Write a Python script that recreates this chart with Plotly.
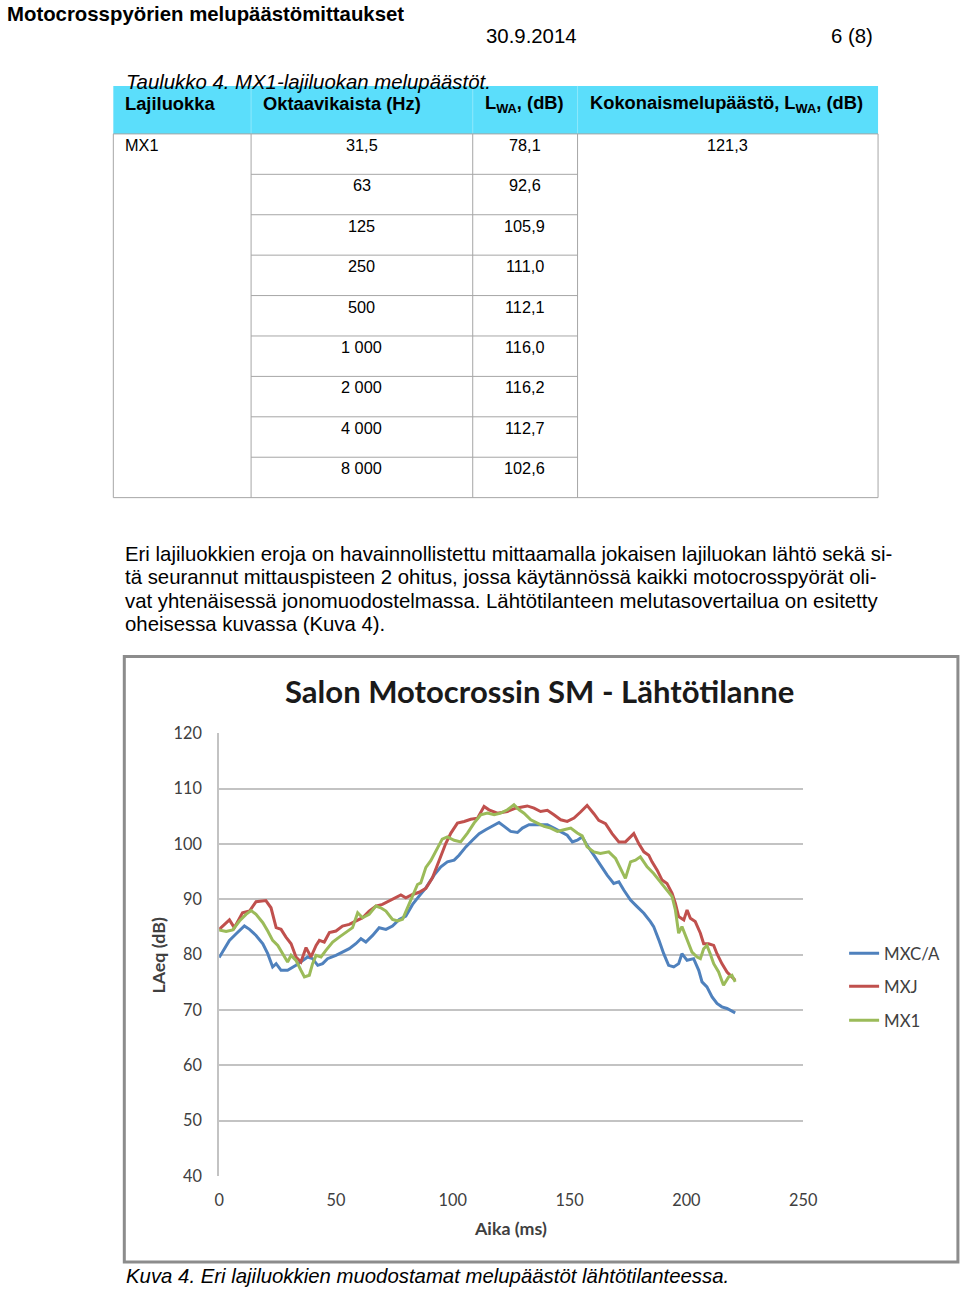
import plotly.graph_objects as go

# The photographed page shows the figure with a small offset and a ~0.98 scale,
# so page (reference) pixels are mapped back to figure pixels with that transform.
W, H = 968, 1289
OX, SX = 3.5, 0.982
OY, SY = 9.0, 0.986

# ---------------- data ----------------
doc_title = "Motocrosspyörien melupäästömittaukset"
doc_date = "30.9.2014"
doc_page = "6 (8)"
table_caption = "Taulukko 4. MX1-lajiluokan melupäästöt."
table_headers = ["Lajiluokka", "Oktaavikaista (Hz)", "L<sub>WA</sub>, (dB)",
                 "Kokonaismelupäästö, L<sub>WA</sub>, (dB)"]
table_class = "MX1"
octave_bands = ["31,5", "63", "125", "250", "500", "1 000", "2 000", "4 000", "8 000"]
lwa_values = ["78,1", "92,6", "105,9", "111,0", "112,1", "116,0", "116,2", "112,7", "102,6"]
total_lwa = "121,3"

paragraph_lines = [
    "Eri lajiluokkien eroja on havainnollistettu mittaamalla jokaisen lajiluokan lähtö sekä si-",
    "tä seurannut mittauspisteen 2 ohitus, jossa käytännössä kaikki motocrosspyörät oli-",
    "vat yhtenäisessä jonomuodostelmassa. Lähtötilanteen melutasovertailua on esitetty",
    "oheisessa kuvassa (Kuva 4).",
]
figure_caption = "Kuva 4. Eri lajiluokkien muodostamat melupäästöt lähtötilanteessa."

chart_title = "Salon Motocrossin SM - Lähtötilanne"
x_title = "Aika (ms)"
y_title = "LAeq (dB)"
x_ticks = [0, 50, 100, 150, 200, 250]
y_ticks = [40, 50, 60, 70, 80, 90, 100, 110, 120]

series_names = ["MXC/A", "MXJ", "MX1"]

t_mxca = [0, 4.4, 7.3, 10.8, 13, 15.8, 18.7, 20.8, 22.9, 24.4, 26.5, 29.3, 32.9, 35.8, 37.9,
          40, 42.2, 44.3, 46.4, 50, 52.8, 55.7, 58.5, 60.7, 62.8, 65.7, 68.5, 71.4, 74.2, 77.1,
          79.9, 82.8, 85.6, 88.5, 92, 94.9, 97.7, 100.6, 102.7, 105.6, 108.4, 111.3, 114.1, 117,
          119.8, 122, 124.8, 127.7, 129.8, 132.6, 136.2, 140.5, 143.3, 146.2, 149, 151.2, 153.3,
          155.4, 157.5, 160.4, 163.2, 166.1, 168.9, 171.1, 173.2, 176.1, 178.9, 181.8, 184.6,
          186, 188.2, 190.3, 192.4, 194.6, 196.7, 198.1, 200.3, 203.1, 205.3, 206.7, 208.8, 211,
          213.1, 215.2, 217.4, 219.5, 220.9]
v_mxca = [79.5, 82.6, 83.8, 85.2, 84.6, 83.5, 82.0, 80.2, 77.8, 78.4, 77.2, 77.2, 78.1, 79.0, 79.6,
          79.3, 78.1, 78.4, 79.3, 79.9, 80.5, 81.1, 82.0, 82.9, 82.3, 83.5, 84.9, 84.6, 85.2, 86.4,
          87.0, 89.1, 90.6, 92.1, 94.4, 95.9, 96.8, 97.1, 98.0, 99.5, 100.7, 101.9, 102.6, 103.2,
          103.9, 103.2, 102.3, 102.1, 102.9, 103.5, 103.5, 103.5, 102.9, 102.3, 101.6, 100.4, 100.7,
          101.3, 99.8, 98.0, 96.2, 94.4, 92.9, 93.2, 91.7, 89.9, 88.7, 87.5, 86.0,
          85.1, 82.7, 80.2, 78.1, 77.8, 78.4, 80.2, 79.0, 79.3, 77.2, 75.1, 74.2, 72.4,
          71.2, 70.6, 70.3, 69.9, 69.5]

t_mxj = [0, 4.4, 6.5, 10, 13, 15.8, 20, 22.2, 24.4, 26.5, 28.6, 30.8, 32.9, 35, 37.2, 39.3, 41.5,
         42.9, 45, 47.2, 50, 52.8, 55.7, 58.5, 61.4, 64.2, 67.1, 69.9, 72.8, 75.6, 77.8, 79.9, 82.8,
         85.6, 88.5, 91.3, 94.9, 97, 99.2, 102, 104.9, 107.7, 110.6, 113.4, 115.5, 119.1, 123.4,
         126.9, 131.9, 134.8, 137.6, 140.5, 143.3, 146.2, 149, 151.9, 154.7, 157.5, 160.4, 162.5,
         165.4, 168.2, 171.1, 173.9, 176.1, 177.5, 179.6, 181.8, 183.9, 185.3, 187.5, 189.6, 191.7,
         193.9, 195.3, 196.7, 198.9, 200.3, 201.7, 203.8, 206, 207.4, 209.5, 211.7, 213.1, 215.2,
         217.4, 219.5, 220.9]
v_mxj = [84.6, 86.3, 84.9, 87.6, 87.9, 89.6, 89.8, 88.5, 84.9, 84.6, 83.2, 82.0, 79.6, 78.7, 81.3,
         79.6, 81.7, 82.6, 82.3, 84.0, 84.3, 85.2, 85.5, 86.1, 86.7, 87.9, 88.8, 89.1, 89.7, 90.4,
         90.8, 90.3, 90.9, 91.3, 92.0, 93.9, 97.7, 100.1, 102.0, 103.8, 104.1, 104.5, 104.7, 106.8,
         106.2, 105.6, 105.9, 106.5, 106.9, 106.5, 105.9, 106.1, 105.3, 104.4, 104.1, 104.7, 105.8,
         107.0, 105.5, 104.3, 103.7, 101.9, 100.4, 100.4, 101.3, 101.9, 100.1, 98.6, 98.0, 96.8,
         95.3, 93.5, 92.9, 91.1, 89.3, 86.9, 86.3, 88.1, 86.6, 86.0, 83.9, 82.0, 82.0, 81.7, 80.2,
         78.4, 76.9, 76.0, 75.4]

t_mx1 = [0, 3, 5.8, 8.7, 11.5, 13.7, 15.8, 18.7, 20.8, 22.9, 25.1, 27.2, 29.3, 30.8, 32.9, 35,
         36.5, 38.6, 40, 41.5, 43.6, 45.7, 48.6, 51.4, 54.3, 57.1, 59.3, 61.4, 64.2, 67.1, 69.2,
         71.4, 74.2, 76.4, 78.5, 80.6, 82.8, 84.9, 86.3, 88.5, 90.6, 93.4, 95.5, 97.7, 100.6, 103.4,
         106.3, 109.1, 112, 114.8, 117.7, 120.5, 123.4, 126.2, 128.4, 130.5, 133.4, 136.2, 139.1,
         141.9, 144.8, 147.6, 150.5, 153.3, 155.4, 157.5, 160.4, 163.2, 166.8, 169.7, 171.8, 173.9,
         176.1, 178.2, 180.3, 183.2, 186, 188.9, 191.7, 193.9, 195.3, 196.7, 198.1, 200.3, 202.4,
         204.6, 206, 207.4, 208.8, 210.2, 211.7, 213.8, 215.9, 218.1, 219.5, 220.9]
v_mx1 = [84.5, 84.2, 84.5, 86.1, 87.3, 88.0, 87.3, 85.8, 84.3, 82.6, 81.7, 80.2, 78.7, 79.9, 79.0,
         77.2, 76.0, 76.3, 78.4, 79.9, 79.6, 80.8, 82.3, 83.2, 84.0, 84.9, 87.6, 86.7, 87.3, 88.8,
         88.5, 87.9, 86.4, 86.1, 86.4, 88.5, 90.9, 92.7, 93.0, 95.8, 97.0, 99.4, 100.9, 101.3, 100.7,
         100.4, 102.0, 103.8, 105.3, 105.6, 105.3, 105.6, 106.2, 107.1, 106.2, 105.6, 104.4, 103.8,
         103.2, 102.9, 102.3, 102.6, 102.9, 102.0, 101.5, 99.5, 98.6, 98.3, 98.6, 97.4, 95.6, 93.8,
         96.8, 97.1, 97.7, 95.9, 94.7, 93.2, 91.7, 90.5, 88.1, 83.9, 85.1, 82.7, 80.5, 79.6, 79.3,
         81.1, 81.7, 80.2, 78.4, 76.9, 74.5, 76.0, 76.3, 75.1]

series_t = [t_mxca, t_mxj, t_mx1]
series_v = [v_mxca, v_mxj, v_mx1]
series_colors = ["#4F81BD", "#C0504D", "#9BBB59"]

# ---------------- layout helpers (page pixel -> paper fraction) ----------------
def fx(x):
    return ((x - OX) / SX) / W


def fy(y):
    return 1 - ((y - OY) / SY) / H


K = 1 / SX  # font compensation for the photographed scale

DOC_FONT = "Liberation Sans, Arial, sans-serif"
CHART_FONT = "Lato, Open Sans, sans-serif"

annotations = []
shapes = []


def text(x, y, s, size, xanchor="left", color="#000000", family=DOC_FONT, bold=False,
         italic=False):
    if bold:
        s = "<b>" + s + "</b>"
    if italic:
        s = "<i>" + s + "</i>"
    annotations.append(dict(x=fx(x), y=fy(y), xref="paper", yref="paper", text=s,
                            showarrow=False, xanchor=xanchor, yanchor="middle",
                            font=dict(size=size * K, color=color, family=family)))


def rect(x0, y0, x1, y1, fill=None, line_color=None, width=1):
    shapes.append(dict(type="rect", xref="paper", yref="paper",
                       x0=fx(x0), x1=fx(x1), y0=fy(y1), y1=fy(y0),
                       fillcolor=fill if fill else "rgba(0,0,0,0)",
                       line=dict(color=line_color if line_color else "rgba(0,0,0,0)",
                                 width=width), layer="below"))


def line(x0, y0, x1, y1, color="#a6a6a6", width=1):
    shapes.append(dict(type="line", xref="paper", yref="paper",
                       x0=fx(x0), x1=fx(x1), y0=fy(y0), y1=fy(y1),
                       line=dict(color=color, width=width), layer="below"))


DOC_SIZE = 20

# ---------------- page header ----------------
text(4, 13, doc_title, DOC_SIZE, bold=True)
text(483, 35, doc_date, DOC_SIZE)
text(829, 35, doc_page, DOC_SIZE)

# ---------------- table ----------------
text(123, 81, table_caption, DOC_SIZE, italic=True)
col_x = [112, 250, 472, 577, 878]
head_top, head_bot = 85, 133
row_h = (497 - 133) / len(octave_bands)
rect(col_x[0], head_top, col_x[-1], head_bot, fill="#5BDEFB")
for cx in col_x[1:-1]:
    line(cx, head_top, cx, head_bot, color="#8EE8FC", width=1)
rect(col_x[0], head_bot, col_x[-1], 497, line_color="#A6A6A6", width=1)
for cx in col_x[1:-1]:
    line(cx, head_bot, cx, 497)
for i in range(1, len(octave_bands)):
    yy = head_bot + i * row_h
    line(col_x[1], yy, col_x[3], yy)

head_x = [122, 260, 482, 587]
for hx, h in zip(head_x, table_headers):
    text(hx, 103, h, 18, bold=True)

text(122, 144, table_class, 16)
text(727, 144, total_lwa, 16, xanchor="center")
for i, (b, v) in enumerate(zip(octave_bands, lwa_values)):
    yy = 144 + i * row_h
    text(361, yy, b, 16, xanchor="center")
    text(524, yy, v, 16, xanchor="center")

# ---------------- paragraph ----------------
for i, ln in enumerate(paragraph_lines):
    text(122, 553 + i * 23.5, ln, DOC_SIZE)

# ---------------- chart frame ----------------
rect(123, 656, 958, 1262, fill="#ffffff", line_color="#8c8c8c", width=3)
text(539, 691, chart_title, 30.5, xanchor="center", family=CHART_FONT, bold=True,
     color="#1a1a1a")

text(510, 1228, x_title, 17.5, xanchor="center", family=CHART_FONT, bold=True, color="#404040")
annotations.append(dict(x=fx(157), y=fy(955), xref="paper", yref="paper",
                        text="<b>" + y_title + "</b>", showarrow=False, textangle=-90,
                        xanchor="center", yanchor="middle",
                        font=dict(size=17.5 * K, color="#404040", family=CHART_FONT)))

text(123, 1276, figure_caption, DOC_SIZE, italic=True)

# ---------------- chart ----------------
fig = go.Figure()
legend_ids = ["legend", "legend2", "legend3"]
legend_y = [953, 986, 1020]
for name, tt, vv, col, lid in zip(series_names, series_t, series_v, series_colors, legend_ids):
    fig.add_trace(go.Scatter(x=tt, y=vv, mode="lines", name=name, legend=lid,
                             line=dict(color=col, width=3)))

plot_l, plot_r, plot_t, plot_b = 218, 803, 733, 1176

legend_common = dict(xanchor="left", yanchor="middle", bgcolor="rgba(0,0,0,0)",
                     font=dict(size=16.5 * K, family=CHART_FONT, color="#404040"),
                     itemwidth=30, tracegroupgap=0)
legends = {}
for lid, ly in zip(legend_ids, legend_y):
    legends[lid] = dict(x=fx(844), y=fy(ly), **legend_common)

fig.update_layout(
    width=W, height=H, autosize=False,
    margin=dict(l=0, r=0, t=0, b=0),
    paper_bgcolor="#ffffff", plot_bgcolor="rgba(0,0,0,0)",
    showlegend=True,
    xaxis=dict(domain=[fx(plot_l), fx(plot_r)], range=[0, 250], tickvals=x_ticks,
               showgrid=False, zeroline=False, showline=False, ticks="",
               ticklabelstandoff=13,
               tickfont=dict(size=16 * K, family=CHART_FONT, color="#404040"), fixedrange=True),
    yaxis=dict(domain=[fy(plot_b), fy(plot_t)], range=[40, 120], tickvals=y_ticks,
               showgrid=True, gridcolor="#c3c3c3", gridwidth=2, zeroline=False,
               showline=True, linecolor="#c3c3c3", linewidth=2, ticks="",
               ticklabelstandoff=12,
               tickfont=dict(size=16 * K, family=CHART_FONT, color="#404040"), fixedrange=True),
    annotations=annotations,
    shapes=shapes,
    **legends,
)

fig.write_html("out.html")
